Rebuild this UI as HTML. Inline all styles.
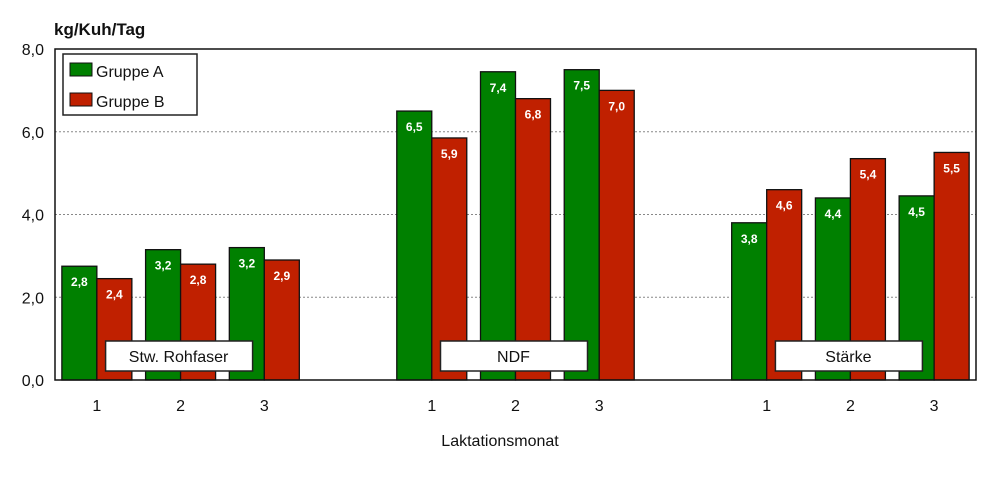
<!DOCTYPE html>
<html><head><meta charset="utf-8"><style>
body{margin:0;background:#fff;width:1000px;height:476px;overflow:hidden;font-family:"Liberation Sans",Arial,sans-serif}
</style></head><body>
<svg width="1000" height="476" xmlns="http://www.w3.org/2000/svg" font-family="Liberation Sans, Arial, sans-serif">
<g id="grid"></g>
<g id="bars"></g>
<g id="axes"></g>
<text x="54" y="35" font-size="17" font-weight="bold" fill="#111">kg/Kuh/Tag</text>
<text x="500" y="446" font-size="16" text-anchor="middle" fill="#111">Laktationsmonat</text>
<g>
<rect x="63" y="54" width="134" height="61" fill="#fff" stroke="#222" stroke-width="1.5"/>
<rect x="70" y="63" width="22" height="13" fill="#008000" stroke="#111"/>
<text x="96" y="77" font-size="16" fill="#111">Gruppe A</text>
<rect x="70" y="93" width="22" height="13" fill="#c02000" stroke="#111"/>
<text x="96" y="107" font-size="16" fill="#111">Gruppe B</text>
</g>
<g id="cats"></g>
</svg>
<script>
const categories=["Stw. Rohfaser","NDF","Stärke"];
const months=["1","2","3"];
const groupA=[2.75,3.15,3.2,6.5,7.45,7.5,3.8,4.4,4.45];
const groupB=[2.45,2.8,2.9,5.85,6.8,7.0,4.6,5.35,5.5];
const labelsA=["2,8","3,2","3,2","6,5","7,4","7,5","3,8","4,4","4,5"];
const labelsB=["2,4","2,8","2,9","5,9","6,8","7,0","4,6","5,4","5,5"];
const yTicks=[0,2,4,6,8];
const NS="http://www.w3.org/2000/svg";
const L=55,R=976,T=49,B=380,YMAX=8;
const y=v=>B-(B-T)*v/YMAX;
const slot=(R-L)/11;
const xc=i=>L+slot*(Math.floor(i/3)*4+i%3+0.5);
function mk(tag,attrs,parent,txt){const e=document.createElementNS(NS,tag);for(const k in attrs)e.setAttribute(k,attrs[k]);if(txt!==undefined)e.textContent=txt;document.getElementById(parent).appendChild(e);return e;}
yTicks.forEach(t=>{
  if(t>0&&t<YMAX){const g=mk('line',{x1:L,x2:R,y1:y(t),y2:y(t),stroke:'#888','stroke-dasharray':'2,2'},'grid');
  
  }
  const tl=mk('text',{x:44,y:y(t)+6,'font-size':16,'text-anchor':'end',fill:'#111'},'axes',t.toFixed(1).replace('.',','));
  
  
});
const bw=35;
groupA.forEach((v,i)=>{
  const c=xc(i);
  const a=mk('rect',{x:c-bw,y:y(v),width:bw,height:B-y(v),fill:'#008000',stroke:'#111','stroke-width':1.3},'bars');
  
  
  const b=mk('rect',{x:c,y:y(groupB[i]),width:bw,height:B-y(groupB[i]),fill:'#c02000',stroke:'#111','stroke-width':1.3},'bars');
  
  
  const la=mk('text',{x:c-bw/2,y:y(v)+20,'font-size':12,'font-weight':'bold','text-anchor':'middle',fill:'#fff'},'bars',labelsA[i]);
  
  
  const lb=mk('text',{x:c+bw/2,y:y(groupB[i])+20,'font-size':12,'font-weight':'bold','text-anchor':'middle',fill:'#fff'},'bars',labelsB[i]);
  
  
  const m=mk('text',{x:c,y:411,'font-size':16,'text-anchor':'middle',fill:'#111'},'axes',months[i%3]);
  
  
});
categories.forEach((n,k)=>{
  const c=xc(k*3+1)-2;
  const r=mk('rect',{x:c-73,y:341,width:147,height:30,fill:'#fff',stroke:'#222','stroke-width':1.5},'cats');
  
  
  const t=mk('text',{x:c,y:362,'font-size':16,'text-anchor':'middle',fill:'#111'},'cats',n);
  
  
});
const f=mk('path',{d:`M${L},${T}H${R}V${B}H${L}Z`,fill:'none',stroke:'#111','stroke-width':1.5},'axes');


</script>
</body></html>
